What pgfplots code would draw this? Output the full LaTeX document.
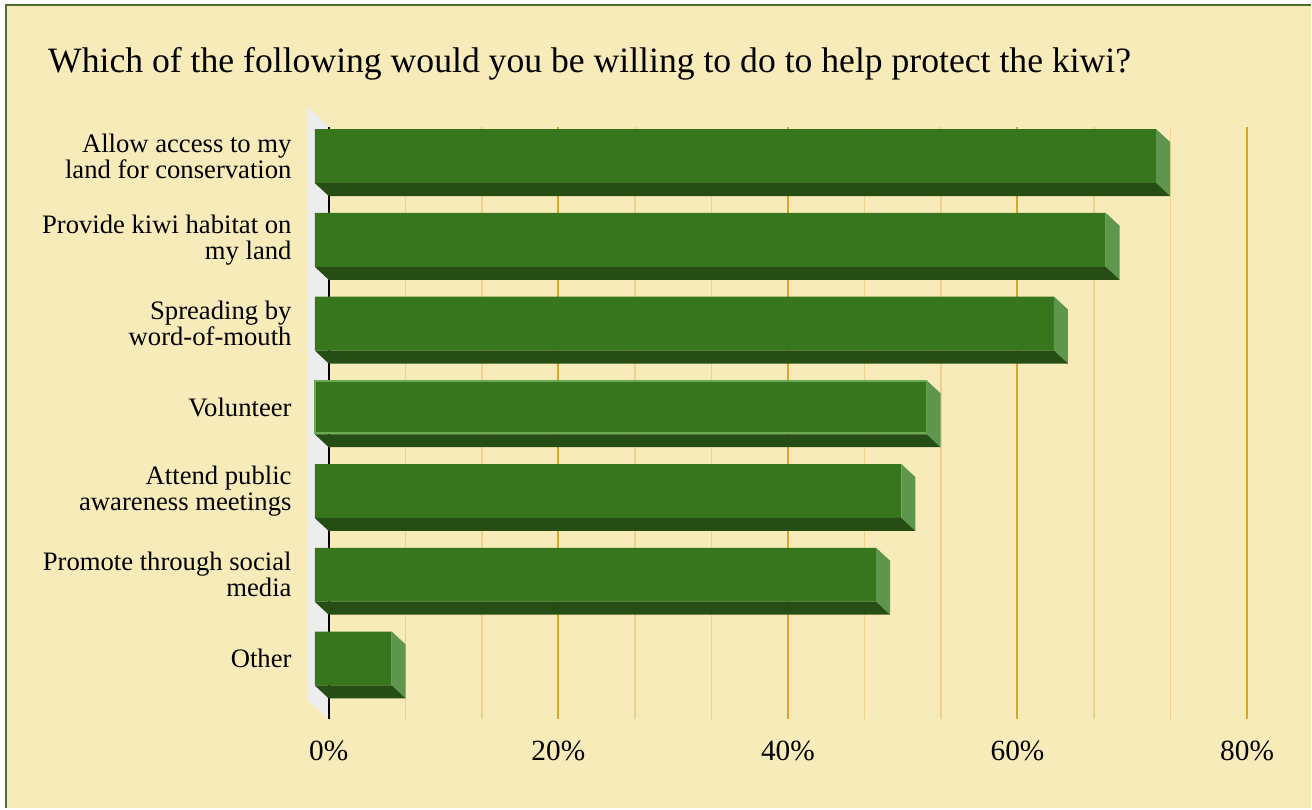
\documentclass[border=0pt]{standalone}
\usepackage{pgfplots}
\pgfplotsset{compat=1.18}
\usepackage{pgfplotstable}
\usepackage{fontspec}
\setmainfont{Liberation Serif}
\definecolor{bgyellow}{RGB}{248,235,186}
\definecolor{framegreen}{RGB}{78,107,48}
\definecolor{frontgreen}{RGB}{56,118,30}
\definecolor{bottomgreen}{RGB}{37,77,20}
\definecolor{sidegreen}{RGB}{94,150,78}
\definecolor{volborder}{RGB}{106,170,85}
\definecolor{wallgray}{RGB}{237,237,237}
\definecolor{majorgrid}{RGB}{216,166,40}
\definecolor{minorgrid}{RGB}{236,212,142}

\pgfplotstableread{
y v
6 73.3
5 68.9
4 64.4
3 53.3
2 51.1
1 48.9
0 6.7
}\kiwidata

\pgfdeclareplotmark{barfaces}{%
  \pgfmathsetmacro{\barlen}{\barval*8.615625}%
  \pgfsetfillcolor{sidegreen}%
  \pgfpathmoveto{\pgfpoint{-10.5pt}{30pt}}%
  \pgfpathlineto{\pgfpoint{0pt}{20.25pt}}%
  \pgfpathlineto{\pgfpoint{0pt}{-20.25pt}}%
  \pgfpathlineto{\pgfpoint{-10.5pt}{-10.5pt}}%
  \pgfpathclose
  \pgfusepath{fill}%
  \pgfsetfillcolor{bottomgreen}%
  \pgfpathmoveto{\pgfpoint{-\barlen pt-10.5pt}{-10.5pt}}%
  \pgfpathlineto{\pgfpoint{-10.5pt}{-10.5pt}}%
  \pgfpathlineto{\pgfpoint{0pt}{-20.25pt}}%
  \pgfpathlineto{\pgfpoint{-\barlen pt}{-20.25pt}}%
  \pgfpathclose
  \pgfusepath{fill}%
}

\begin{document}
\begin{tikzpicture}
\fill[white] (-246.75pt,-66.75pt) rectangle (737.25pt,540pt);
\fill[bgyellow] (-242.25pt,-66.75pt) rectangle (737.25pt,536.25pt);
\draw[framegreen, line width=1.5pt] (-242.25pt,-66.75pt) -- (-242.25pt,536.25pt) -- (737.25pt,536.25pt);
\node[anchor=base west, inner sep=0pt, font=\fontsize{26.75}{30}\selectfont] at (-210.75pt,485.25pt) {Which of the following would you be willing to do to help protect the kiwi?};
\begin{axis}[
  at={(0pt,0pt)}, anchor=south west,
  x=8.615625pt, y=62.85pt,
  xmin=0, xmax=80, ymin=-0.573, ymax=6.501,
  clip=false,
  axis line style={draw=none},
  major tick length=0pt, minor tick length=0pt,
  xtick={0,20,40,60,80},
  xticklabels={0\%,20\%,40\%,60\%,80\%},
  minor xtick={6.6667,13.3333,26.6667,33.3333,46.6667,53.3333,66.6667,73.3333},
  xmajorgrids, xminorgrids,
  major grid style={majorgrid, line width=1.5pt},
  minor grid style={minorgrid, line width=1.1pt},
  ytick={0,1,2,3,4,5,6},
  yticklabels={Other,{Promote through social\\media},{Attend public\\awareness meetings},Volunteer,{Spreading by\\word-of-mouth},{Provide kiwi habitat on\\my land},{Allow access to my\\land for conservation}},
  yticklabel style={font=\fontsize{20}{19.5}\selectfont, align=right, anchor=east, inner sep=0pt, xshift=-27.75pt, yshift=9.75pt},
  xticklabel style={font=\fontsize{22}{24}\selectfont, anchor=base, inner sep=0pt, yshift=-30.75pt},
]
\fill[wallgray] (axis cs:0,6.501) -- ++(-15.75pt,15pt) -- ++(0pt,-444.75pt) -- (axis cs:0,-0.573) -- cycle;
\draw[black, line width=1.3pt] (axis cs:0,-0.573) -- (axis cs:0,6.501);
\addplot[only marks, mark=barfaces, visualization depends on={\thisrow{v} \as \barval}] table[x=v,y=y] \kiwidata;
\addplot[xbar, bar width=40.5pt, bar shift=9.75pt, xshift=-10.5pt, fill=frontgreen, draw=none] table[x=v,y=y] \kiwidata;
\addplot[xbar, bar width=39pt, bar shift=9.75pt, xshift=-10.5pt, fill=frontgreen, draw=volborder, line width=1.3pt] coordinates {(53.3,3)};
\end{axis}
\end{tikzpicture}
\end{document}
